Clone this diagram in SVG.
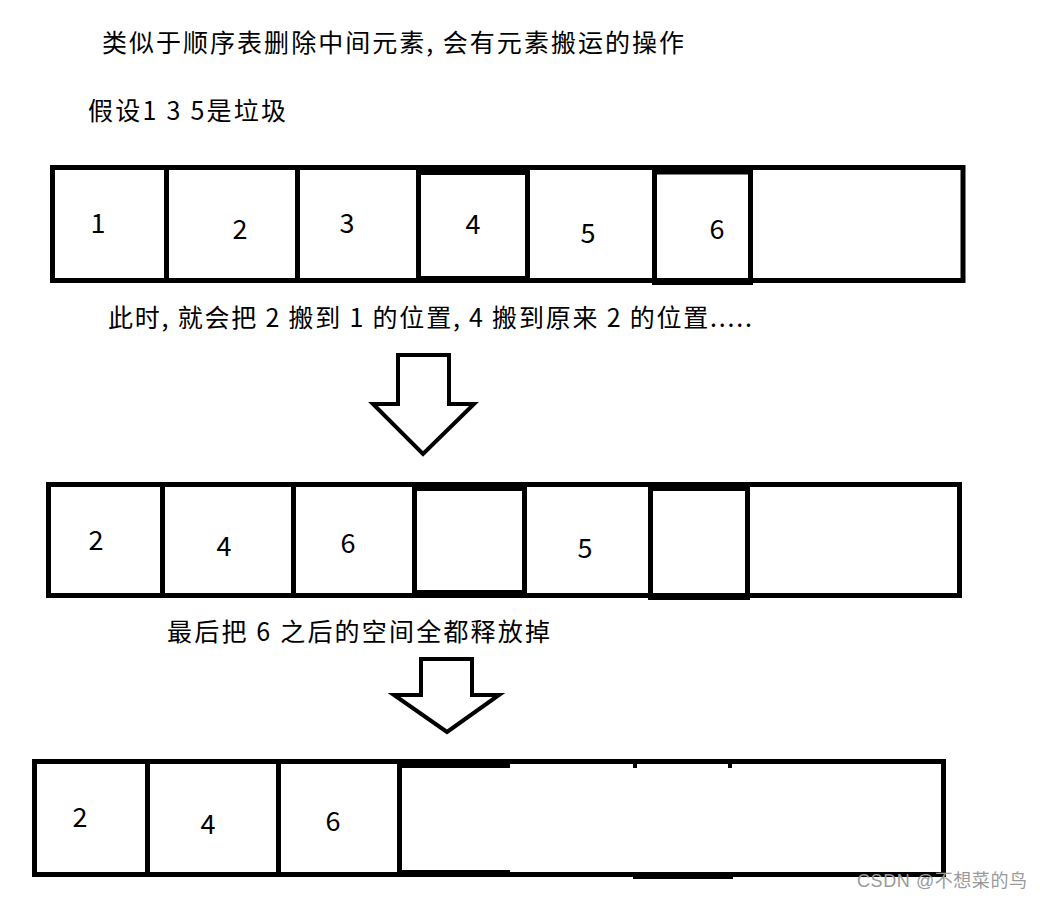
<svg xmlns="http://www.w3.org/2000/svg" width="1042" height="899" viewBox="0 0 1042 899">
<style>
.box{fill:none;stroke:#000;stroke-width:5}
.ln{stroke:#000;stroke-width:5}
.blk{fill:#000}
.t{font-family:"Microsoft YaHei","Noto Sans CJK SC",sans-serif;font-size:25px;fill:#000}
.d{font-family:"Microsoft YaHei","Noto Sans CJK SC",sans-serif;font-size:27px;fill:#000;text-anchor:middle}
.arrow{fill:#fff;stroke:#000;stroke-width:4;stroke-linejoin:miter}
.wm{font-family:"Liberation Sans","Noto Sans CJK SC",sans-serif;font-size:18px;fill:#9a9a9a}
</style>
<rect width="1042" height="899" fill="#fff"/>
<g id="texts">
<text class="t" x="102" y="52" textLength="582">类似于顺序表删除中间元素, 会有元素搬运的操作</text>
<text class="t" x="88" y="120" textLength="198">假设1 3 5是垃圾</text>
<text class="t" x="108" y="327" textLength="644">此时, 就会把 2 搬到 1 的位置, 4 搬到原来 2 的位置.....</text>
<text class="t" x="167" y="641" textLength="383">最后把 6 之后的空间全都释放掉</text>
</g>
<g id="row1">
<rect class="box" x="52.5" y="167.5" width="910.5" height="113"/>
<line class="ln" x1="166.5" y1="167.5" x2="166.5" y2="280.5"/>
<line class="ln" x1="297.5" y1="167.5" x2="297.5" y2="280.5"/>
<rect class="box" x="418.5" y="172.5" width="109" height="106"/>
<rect class="box" x="654.5" y="172" width="96" height="110.5"/>
<text class="d" x="98" y="233">1</text>
<text class="d" x="240" y="239">2</text>
<text class="d" x="347" y="233">3</text>
<text class="d" x="473" y="234">4</text>
<text class="d" x="588" y="243">5</text>
<text class="d" x="717" y="239">6</text>
</g>
<g id="row2">
<rect class="box" x="48.5" y="484.5" width="911" height="111"/>
<line class="ln" x1="162.5" y1="484.5" x2="162.5" y2="595.5"/>
<line class="ln" x1="293.5" y1="484.5" x2="293.5" y2="595.5"/>
<rect class="box" x="414.5" y="488.5" width="110" height="104"/>
<rect class="box" x="650.5" y="488.5" width="97" height="109"/>
<text class="d" x="96" y="550">2</text>
<text class="d" x="224" y="556">4</text>
<text class="d" x="348" y="553">6</text>
<text class="d" x="585" y="558">5</text>
</g>
<g id="row3">
<rect class="box" x="34.5" y="761.5" width="909" height="113"/>
<line class="ln" x1="147.5" y1="761.5" x2="147.5" y2="874.5"/>
<line class="ln" x1="278.5" y1="761.5" x2="278.5" y2="874.5"/>
<line class="ln" x1="399.5" y1="761.5" x2="399.5" y2="874.5"/>
<rect class="blk" x="397" y="759" width="113" height="9"/>
<rect class="blk" x="397" y="870" width="113" height="7"/>
<rect class="blk" x="633" y="762" width="4" height="6"/>
<rect class="blk" x="728" y="762" width="4" height="6"/>
<rect class="blk" x="633" y="872" width="100" height="7"/>
<text class="d" x="80" y="827">2</text>
<text class="d" x="208" y="834">4</text>
<text class="d" x="333" y="831">6</text>
</g>
<g id="connectors">
<polygon class="arrow" points="398,355 449,355 449,404 474,404 423,454 373,404 398,404"/>
<polygon class="arrow" points="421,659 472,659 472,695 499,695 447,732 394,695 421,695"/>
</g>
<text class="wm" x="857" y="887" textLength="170">CSDN @不想菜的鸟</text>
</svg>
